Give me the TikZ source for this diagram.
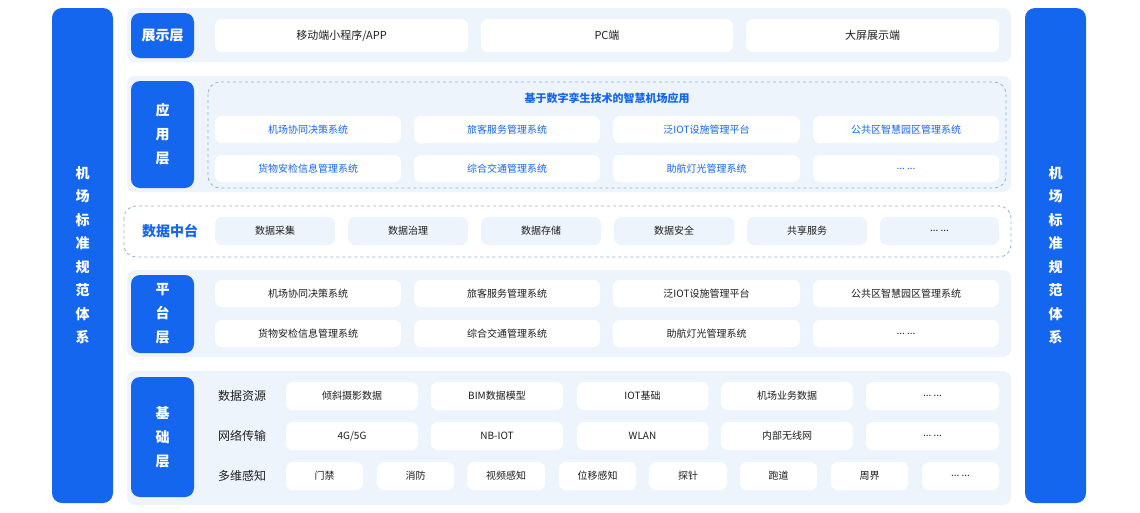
\documentclass[tikz,border=0pt]{standalone}
\usepackage{fontspec}
\setmainfont{Noto Sans CJK SC}
\newcommand\mydots{.{}.{}.\ .{}.{}.}
\begin{document}
\begin{tikzpicture}[x=1pt,y=-1pt,
  bar/.style={fill=mainblue,rounded corners=10pt},
  panel/.style={fill=panelbg,rounded corners=8pt},
  lab/.style={fill=mainblue,rounded corners=9pt},
  item/.style={fill=white,rounded corners=7pt},
  litem/.style={fill=panelbg,rounded corners=7pt},
  dbox/.style={draw=dashblue,dashed,rounded corners=12pt,line width=0.8pt},
  wt/.style={text=white,font=\bfseries\fontsize{14}{24}\selectfont,align=center},
  it/.style={font=\fontsize{10}{12}\selectfont,text=darktext},
  bt/.style={font=\fontsize{10}{12}\selectfont,text=mainblue},
  rt/.style={font=\fontsize{12}{14}\selectfont,text=darktext}]
\definecolor{mainblue}{HTML}{1466EE}
\definecolor{panelbg}{HTML}{EEF4FC}
\definecolor{dashblue}{HTML}{8FB0E0}
\definecolor{darktext}{HTML}{1E1E1E}
\useasboundingbox (0,0) rectangle (1140,512);
\fill[white] (0,0) rectangle (1140,512);
% side bars
\fill[bar] (52,8) rectangle (113,503);
\fill[bar] (1025,8) rectangle (1086,503);
\node[wt,font=\bfseries\fontsize{14}{23.5}\selectfont] (lbar) at (82.5,255) {机\\场\\标\\准\\规\\范\\体\\系};
\node[wt,font=\bfseries\fontsize{14}{23.5}\selectfont] (rbar) at (1055.5,255) {机\\场\\标\\准\\规\\范\\体\\系};
% panels
\fill[panel] (127,8) rectangle (1011,62);
\fill[panel] (127,76) rectangle (1011,192);
\fill[panel] (127,270) rectangle (1011,357);
\fill[panel] (127,371) rectangle (1011,505);
% display layer
\fill[lab] (131,13) rectangle (194,58);
\node[wt] (l1) at (162.5,35.5) {展示层};
\foreach \a/\b/\t [count=\i] in {215/468/{移动端小程序/APP},481/733/PC端,746/999/大屏展示端}{
  \fill[item] (\a,19) rectangle (\b,52);
  \node[rt,font=\fontsize{11}{13}\selectfont] (d\i) at ({(\a+\b)/2},35.5) {\t};}
% app layer
\fill[lab] (131,81) rectangle (194,188);
\node[wt] (l2) at (162.5,134.5) {应\\用\\层};
\draw[dbox] (208,82) rectangle (1006,188);
\node[bt,font=\bfseries\fontsize{11}{13}\selectfont] (apptitle) at (607,98) {基于数字孪生技术的智慧机场应用};
\foreach \a/\b/\t [count=\i] in {215/401/机场协同决策系统,414/600/旅客服务管理系统,613/800/泛IOT设施管理平台,813/999/公共区智慧园区管理系统}{
  \fill[item] (\a,116) rectangle (\b,143);
  \node[bt] (aa\i) at ({(\a+\b)/2},129.5) {\t};}
\foreach \a/\b/\t [count=\i] in {215/401/货物安检信息管理系统,414/600/综合交通管理系统,613/800/助航灯光管理系统,813/999/\mydots}{
  \fill[item] (\a,155) rectangle (\b,182);
  \node[bt] (ab\i) at ({(\a+\b)/2},168.5) {\t};}
% data middle
\draw[dbox,fill=white] (124,206) rectangle (1011,257);
\node[bt,font=\bfseries\fontsize{14}{16}\selectfont] (l3) at (170,231.5) {数据中台};
\foreach \a/\b/\t [count=\i] in {215/335/数据采集,348/468/数据治理,481/601/数据存储,614/734/数据安全,747/867/共享服务,880/999/\mydots}{
  \fill[litem] (\a,217) rectangle (\b,245);
  \node[it] (m\i) at ({(\a+\b)/2},231) {\t};}
% platform layer
\fill[lab] (131,275) rectangle (194,353);
\node[wt] (l4) at (162.5,314) {平\\台\\层};
\foreach \a/\b/\t [count=\i] in {215/401/机场协同决策系统,414/600/旅客服务管理系统,613/800/泛IOT设施管理平台,813/999/公共区智慧园区管理系统}{
  \fill[item] (\a,280) rectangle (\b,307);
  \node[it] (pa\i) at ({(\a+\b)/2},293.5) {\t};}
\foreach \a/\b/\t [count=\i] in {215/401/货物安检信息管理系统,414/600/综合交通管理系统,613/800/助航灯光管理系统,813/999/\mydots}{
  \fill[item] (\a,320) rectangle (\b,347);
  \node[it] (pb\i) at ({(\a+\b)/2},333.5) {\t};}
% base layer
\fill[lab] (131,377) rectangle (194,497);
\node[wt] (l5) at (162.5,437) {基\\础\\层};
\node[rt] (r1) at (242,396) {数据资源};
\node[rt] (r2) at (242,436) {网络传输};
\node[rt] (r3) at (242,476) {多维感知};
\foreach \a/\b/\t [count=\i] in {286/418/倾斜摄影数据,431/563/BIM数据模型,577/708/IOT基础,721/853/机场业务数据,866/999/\mydots}{
  \fill[item] (\a,382) rectangle (\b,410);
  \node[it] (ba\i) at ({(\a+\b)/2},396) {\t};}
\foreach \a/\b/\t [count=\i] in {286/418/{4G/5G},431/563/NB-IOT,577/708/WLAN,721/853/内部无线网,866/999/\mydots}{
  \fill[item] (\a,422) rectangle (\b,450);
  \node[it] (bb\i) at ({(\a+\b)/2},436) {\t};}
\foreach \a/\b/\t [count=\i] in {286/363/门禁,377/454/消防,467/545/视频感知,559/636/位移感知,649/727/探针,740/817/跑道,831/908/周界,922/999/\mydots}{
  \fill[item] (\a,462) rectangle (\b,490);
  \node[it] (bc\i) at ({(\a+\b)/2},476) {\t};}
\end{tikzpicture}
\end{document}
